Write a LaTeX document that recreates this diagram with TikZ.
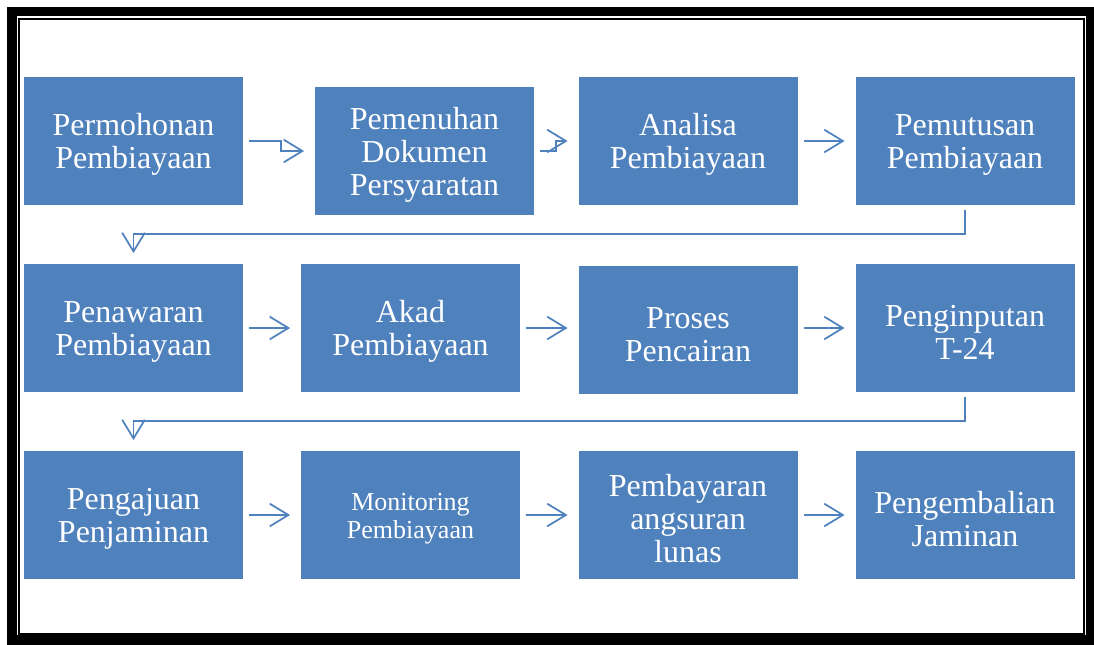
\documentclass[tikz,border=0pt]{standalone}
\usepackage{fontspec}
\setmainfont{Liberation Serif}
\usetikzlibrary{arrows.meta, positioning, calc}
\definecolor{boxblue}{HTML}{4F81BD}
\newcommand{\lift}{\rule{0pt}{22pt}}

\begin{document}
\begin{tikzpicture}[
    x=0.75pt, y=-0.75pt,
    stepbox/.style={rectangle, fill=boxblue, text=white, minimum width=164.25pt,
        minimum height=96pt, inner sep=2pt, align=center,
        font=\fontsize{24}{24.75}\selectfont},
    small/.style={font=\fontsize{19.5}{21}\selectfont},
    arr/.style={draw=boxblue, line width=1.3pt,
        -{Straight Barb[length=14pt, width=17pt, line width=1.3pt]},
        shorten <=4.5pt, shorten >=8pt}
]
    \useasboundingbox (0,0) rectangle (1094,644);
    % frame
    \draw[line width=7pt] (12,11.5) rectangle (1090.5,640);
    \draw[line width=1.5pt] (19,19) rectangle (1084,634);

    % first row
    \node[stepbox] (permohonan) at (133.5,141) {\lift Permohonan\\Pembiayaan};
    \node[stepbox] (pemenuhan) at (424.5,151) {\lift Pemenuhan\\Dokumen\\Persyaratan};
    \node[stepbox] (analisa) at (688,141) {\lift Analisa\\Pembiayaan};
    \node[stepbox] (pemutusan) at (965,141) {\lift Pemutusan\\Pembiayaan};

    % second row
    \node[stepbox] (penawaran) at (133.5,328) {\lift Penawaran\\Pembiayaan};
    \node[stepbox] (akad) at (410.5,328) {\lift Akad\\Pembiayaan};
    \node[stepbox] (pencairan) at (688,330) {\lift Proses\\Pencairan};
    \node[stepbox] (input) at (965,328) {\lift Penginputan\\T-24};

    % third row
    \node[stepbox] (pengajuan) at (133.5,515) {\lift Pengajuan\\Penjaminan};
    \node[stepbox, small] (monitoring) at (410.5,515) {\rule{0pt}{18pt}Monitoring\\Pembiayaan};
    \node[stepbox] (angsuran) at (688,515) {\lift Pembayaran\\angsuran\\lunas};
    \node[stepbox] (pengembalian) at (965,515) {\lift Pengembalian\\Jaminan};

    \draw[arr] (permohonan.east) -- ++(38,0) |- (pemenuhan.west);
    \draw[arr] (pemenuhan.east) -- ++(22,0) |- (analisa.west);
    \draw[arr] (analisa.east) -- (pemutusan.west);
    \draw[arr, shorten <=3.5pt] (pemutusan.south) -- ++(0,29) -| (penawaran.north);

    \draw[arr] (penawaran.east) -- (akad.west);
    \draw[arr] (akad.east) -- (akad.east -| pencairan.west);
    \draw[arr] (pencairan.east |- input.west) -- (input.west);
    \draw[arr, shorten <=3.5pt] (input.south) -- ++(0,29) -| (pengajuan.north);

    \draw[arr] (pengajuan.east) -- (monitoring.west);
    \draw[arr] (monitoring.east) -- (angsuran.west);
    \draw[arr] (angsuran.east) -- (pengembalian.west);
\end{tikzpicture}
\end{document}
